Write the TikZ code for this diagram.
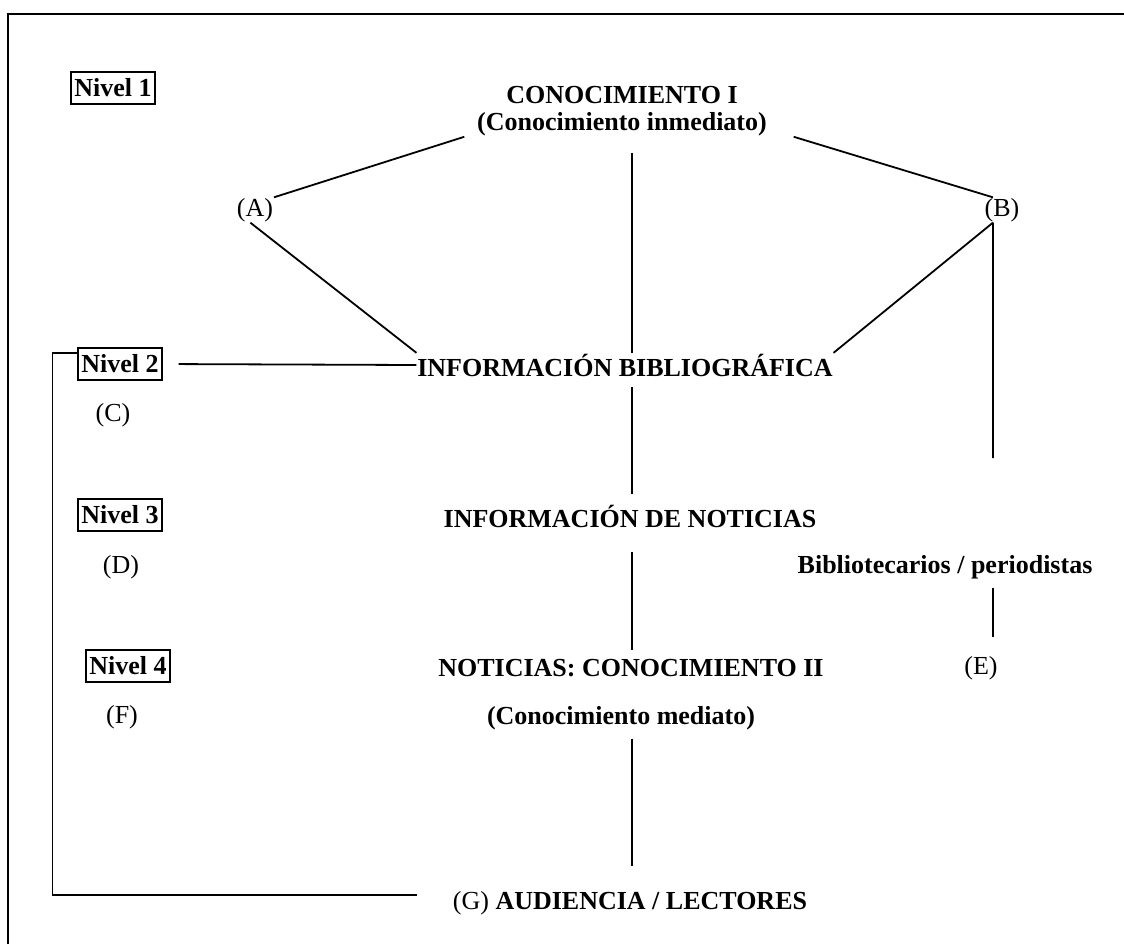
\documentclass[tikz,border=0pt]{standalone}
\usepackage{fontspec}
\setmainfont{Liberation Serif}
\usetikzlibrary{calc}

\begin{document}
\begin{tikzpicture}[x=0.5pt,y=-0.5pt,line width=0.9pt,
  every node/.style={font=\fontsize{13}{13.5}\selectfont, inner sep=0pt},
  nivel/.style={draw, line width=0.9pt, font=\fontsize{13}{13.5}\selectfont\bfseries, inner xsep=1.5pt, inner ysep=3.5pt},
  titulo/.style={font=\fontsize{13}{13.5}\selectfont\bfseries, align=center}]
\useasboundingbox (0,0) rectangle (1124,944);
\draw[line width=1pt] (8,944) -- (8,14) -- (1124,14);

\node[nivel] (lvl1) at (113,88) {Nivel 1};
\node[nivel] (lvl2) at (120,364) {Nivel 2};
\node[nivel] (lvl3) at (120,515) {Nivel 3};
\node[nivel] (lvl4) at (128,666) {Nivel 4};
\node (c) at (113,415) {(C)};
\node (d) at (121,567) {(D)};
\node (f) at (122,717) {(F)};

\node[titulo, inner xsep=6pt] (ci) at (622,111) {CONOCIMIENTO I\\(Conocimiento inmediato)};
\node (a) at (255,210) {(A)};
\node (b) at (1002,210) {(B)};
\node[titulo] (ib) at (625,365) {INFORMACIÓN BIBLIOGRÁFICA};
\node[titulo] (idn) at (630,516) {INFORMACIÓN DE NOTICIAS};
\node[titulo] (bib) at (945,567) {Bibliotecarios / periodistas};
\node[titulo] (ncii) at (631,668) {NOTICIAS: CONOCIMIENTO II};
\node (e) at (981,668) {(E)};
\node[titulo] (med) at (621,718) {(Conocimiento mediato)};
\node (aud) at (630,903) {(G) \textbf{AUDIENCIA / LECTORES}};

\coordinate (axis) at (632,0);
\coordinate (bfoot) at ($(b.south west)!.5!(b.south)$);
\coordinate (bstop) at (993,458);

% top of the tree
\draw (ci.south west) -- (a.north east);
\draw ([xshift=7pt]ci.south east) -- ($(b.north west)!.5!(b.north)$);
\draw (a.250) -- (ib.north west);
\draw (bfoot) -- (ib.north east);
\draw (bfoot) -- (bstop);
\draw[shorten <=8pt] (ci.south -| axis) -- (ib.north -| axis);

% centre line
\draw[shorten <=5pt, shorten >=5pt] (ib.south -| axis) -- (idn.north -| axis);
\draw[shorten <=12pt, shorten >=4pt] (idn.south -| axis) -- (ncii.north -| axis);
\draw[shorten <=4pt, shorten >=12pt] (med.south -| axis) -- (aud.north -| axis);
\draw[shorten <=4pt, shorten >=9pt] (bib.south -| bfoot) -- (e.north -| bfoot);

% levels
\draw[shorten <=8pt] (lvl2.east) -- (ib.west);
\draw[shorten >=17.5pt] (lvl2.165) -- ++(-25,0) |- ([yshift=4pt]aud.west);
\end{tikzpicture}
\end{document}
